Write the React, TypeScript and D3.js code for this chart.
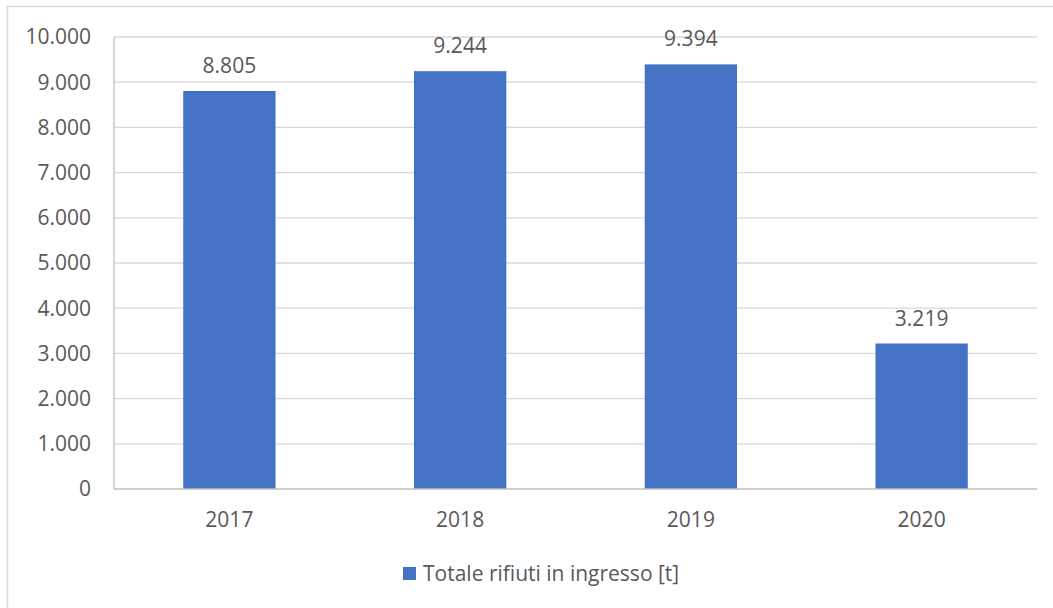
import React from "react";
import * as d3 from "d3";

const categories = ["2017", "2018", "2019", "2020"];
const values = [8805, 9244, 9394, 3219];
const yTicks = [0, 1000, 2000, 3000, 4000, 5000, 6000, 7000, 8000, 9000, 10000];
const seriesName = "Totale rifiuti in ingresso [t]";

const W = 1053;
const H = 608;
const FONT = "'Open Sans', 'Noto Sans', sans-serif";
const TEXT = "#595959";
const BAR = "#4472C4";

const fmt = (v: number) => d3.format(",")(v).replace(/,/g, ".");

export default function App() {
  const left = 114, right = 1037, top = 37, bottom = 489;
  const x = d3.scaleBand<string>().domain(categories).range([left, right]).paddingInner(0.6).paddingOuter(0.3);
  const y = d3.scaleLinear().domain([0, 10000]).range([bottom, top]);

  return (
    <svg width={W} height={H} style={{ position: "absolute", left: 0, top: 0, background: "#fff" }} fontFamily={FONT}>
      <rect x={7.5} y={6.5} width={W + 20} height={H + 20} fill="#fff" stroke="#d9d9d9" strokeWidth={1.5} />
      {yTicks.map((t) => (
        <g key={t}>
          {t > 0 && <line x1={left} x2={right} y1={y(t)} y2={y(t)} stroke="#d9d9d9" strokeWidth={1.3} />}
          <text x={91} y={y(t)} dy="0.35em" textAnchor="end" fontSize={21} fill={TEXT}>{fmt(t)}</text>
        </g>
      ))}
      {categories.map((c, i) => (
        <g key={c}>
          <rect x={x(c)!} y={y(values[i])} width={x.bandwidth()} height={bottom - y(values[i])} fill={BAR} />
          <text x={x(c)! + x.bandwidth() / 2} y={y(values[i]) - 18} textAnchor="middle" fontSize={21} fill={TEXT}>{fmt(values[i])}</text>
          <text x={x(c)! + x.bandwidth() / 2} y={520} dy="0.35em" textAnchor="middle" fontSize={21} fill={TEXT}>{c}</text>
        </g>
      ))}
      <line x1={left} x2={left} y1={top} y2={bottom} stroke="#bfbfbf" strokeWidth={1.3} />
      <line x1={left} x2={right} y1={bottom} y2={bottom} stroke="#bfbfbf" strokeWidth={1.5} />
      <rect x={403} y={567} width={13} height={13} fill={BAR} />
      <text x={423} y={574} dy="0.35em" fontSize={21} fill={TEXT}>{seriesName}</text>
    </svg>
  );
}
